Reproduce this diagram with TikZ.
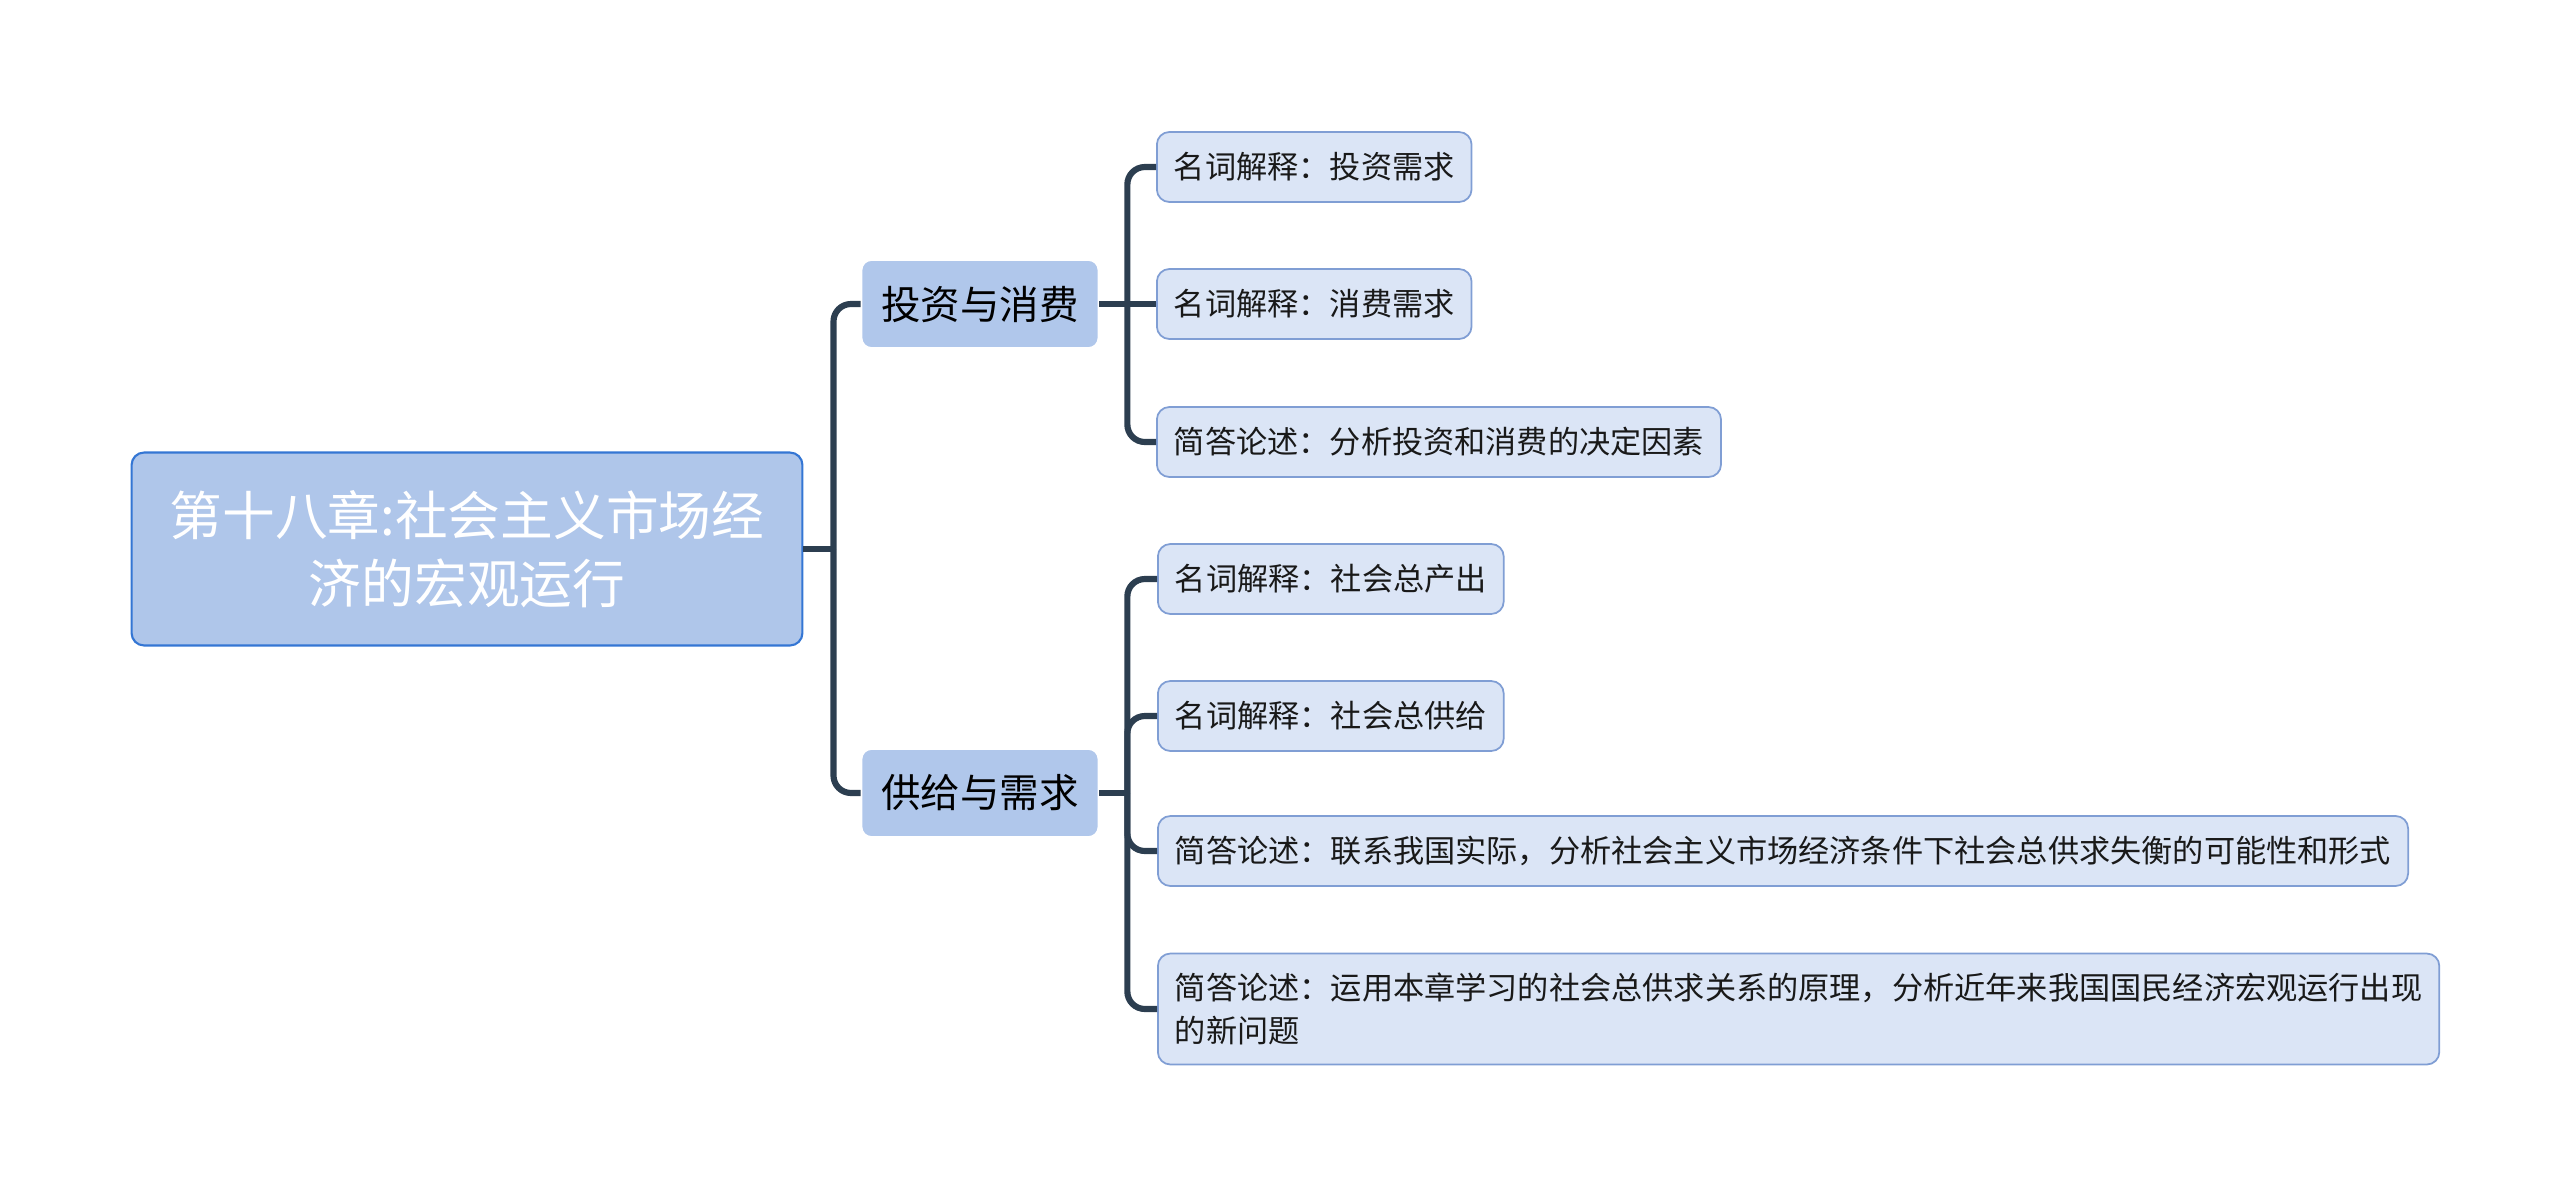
\documentclass[tikz,border=0pt]{standalone}
\usepackage{fontspec}
\newfontfamily\cjk{Noto Sans CJK SC}
\definecolor{linec}{RGB}{44,62,80}
\definecolor{rootfill}{RGB}{175,198,234}
\definecolor{rootline}{RGB}{52,118,212}
\definecolor{topicfill}{RGB}{176,199,235}
\definecolor{leaffill}{RGB}{219,229,246}
\definecolor{leafline}{RGB}{128,158,212}
\begin{document}
\begin{tikzpicture}[x=0.02cm, y=-0.02cm,
    root/.style={draw=rootline, fill=rootfill, line width=1.2pt, rounded corners=0.25cm,
      minimum width=13.42cm, minimum height=3.86cm, align=center, text=white,
      font=\cjk\fontsize{30}{39}\selectfont},
    topic/.style={draw=white, fill=topicfill, line width=1pt, rounded corners=0.2cm,
      minimum width=4.74cm, minimum height=1.76cm, font=\cjk\fontsize{22.5}{27}\selectfont},
    leaf/.style={draw=leafline, fill=leaffill, line width=1pt, rounded corners=0.25cm,
      minimum height=1.4cm, inner xsep=0.34cm, align=left, anchor=west,
      font=\cjk\fontsize{17.75}{24}\selectfont, text=black!90},
    conn/.style={draw=linec, line width=3.5pt, rounded corners=0.35cm}]
    \useasboundingbox (0,0) rectangle (2560,1197);

    \node[root] (root) at (467,549) {第十八章:社会主义市场经\\济的宏观运行};
    \node[topic] (inv) at (980,304) {投资与消费};
    \node[topic] (sup) at (980,793) {供给与需求};

    \node[leaf] (q1) at (1156,167) {名词解释：投资需求};
    \node[leaf] (q2) at (1156,304) {名词解释：消费需求};
    \node[leaf] (q3) at (1156,442) {简答论述：分析投资和消费的决定因素};

    \node[leaf] (p1) at (1157,579) {名词解释：社会总产出};
    \node[leaf] (p2) at (1157,716) {名词解释：社会总供给};
    \node[leaf] (p3) at (1157,851) {简答论述：联系我国实际，分析社会主义市场经济条件下社会总供求失衡的可能性和形式};
    \node[leaf, minimum height=2.22cm] (p4) at (1157,1009) {简答论述：运用本章学习的社会总供求关系的原理，分析近年来我国国民经济宏观运行出现\\的新问题};

    % root to topics
    \coordinate (j0) at ([xshift=0.6cm]root.east);
    \draw[conn] (root.east) -- (j0);
    \draw[conn] (j0) |- (inv.west);
    \draw[conn] (j0) |- (sup.west);

    % topics to leaves
    \coordinate (j1) at ([xshift=0.56cm]inv.east);
    \draw[conn] (inv.east) -- (q2.west);
    \foreach \n in {q1,q3}
        \draw[conn] (j1) |- (\n.west);

    \coordinate (j2) at ([xshift=0.56cm]sup.east);
    \draw[conn] (sup.east) -- (j2);
    \foreach \n in {p1,p2,p3,p4}
        \draw[conn] (j2) |- (\n.west);
\end{tikzpicture}
\end{document}
